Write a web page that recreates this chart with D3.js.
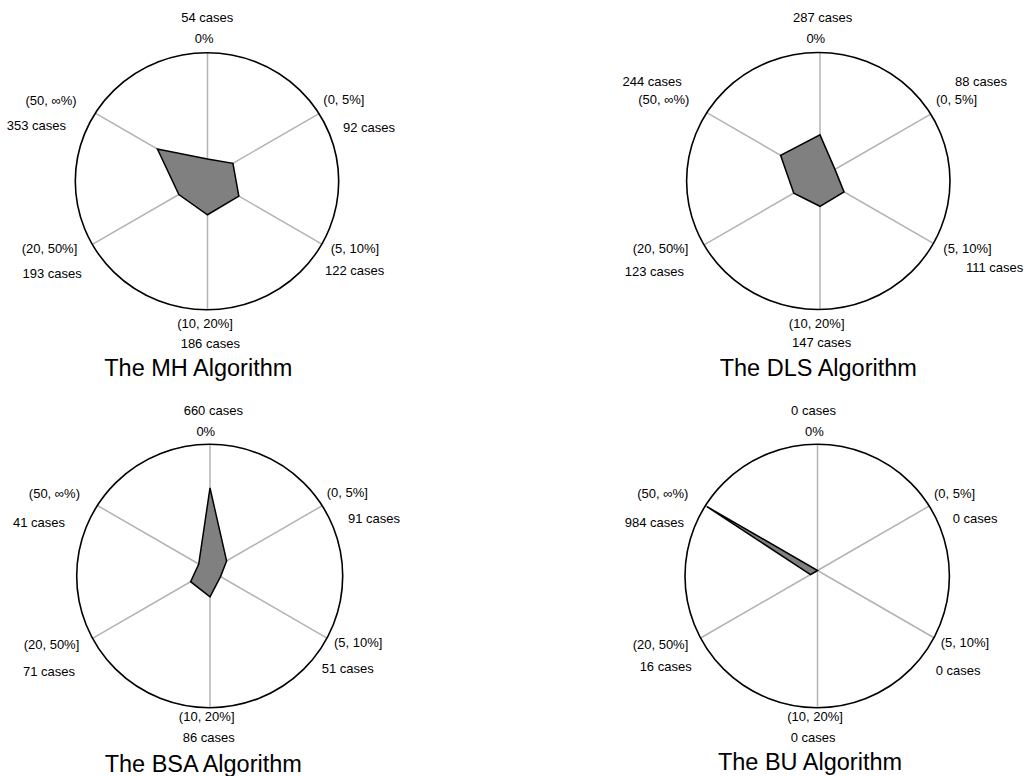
<!DOCTYPE html>
<html><head><meta charset="utf-8">
<script src="https://cdn.jsdelivr.net/npm/d3@7"></script>
<style>
body{margin:0;background:#fff}
svg{display:block}
text{font-family:"Liberation Sans",Arial,Helvetica,sans-serif;fill:#000}
</style>
</head><body>
<svg id="chart" width="1029" height="776"></svg>
<script>
// ---- data ----
const categories = ["0%", "(0, 5%]", "(5, 10%]", "(10, 20%]", "(20, 50%]", "(50, \u221E%)"];
const algorithms = ["The MH Algorithm", "The DLS Algorithm", "The BSA Algorithm", "The BU Algorithm"];
const casesMH  = [54, 92, 122, 186, 193, 353];
const casesDLS = [287, 88, 111, 147, 123, 244];
const casesBSA = [660, 91, 51, 86, 71, 41];
const casesBU  = [0, 0, 0, 0, 16, 984];
// radial extent of each polygon vertex (share of the axis length)
const radiusMH  = [0.152, 0.228, 0.274, 0.279, 0.249, 0.446];
const radiusDLS = [0.344, 0.135, 0.212, 0.215, 0.226, 0.348];
const radiusBSA = [0.654, 0.148, 0.090, 0.192, 0.165, 0.100];
const radiusBU  = [0, 0, 0, 0, 0.060, 0.985];

const casesAll = [casesMH, casesDLS, casesBSA, casesBU];
const radiusAll = [radiusMH, radiusDLS, radiusBSA, radiusBU];

// ---- layout (positions only) ----
const layout = [
  { sc:[207.5,178], ec:[207,181.2], rx:131.7, ry:128.5, title:[198.3,375.5],
    lab:[ [[204.2,43.3,"middle"],[207.2,21.7,"middle"]],
          [[323.3,103.5,"start"],[343,131.7,"start"]],
          [[330.7,252.5,"start"],[325,275,"start"]],
          [[205,328,"middle"],[210.3,348,"middle"]],
          [[77.3,252.5,"end"],[81.7,278,"end"]],
          [[76.7,105,"end"],[66,130,"end"]] ] },
  { sc:[820,178], ec:[818.3,181], rx:131.7, ry:128.5, title:[818.3,375.5],
    lab:[ [[815.8,43.3,"middle"],[822.7,21.7,"middle"]],
          [[936,103.5,"start"],[955,86,"start"]],
          [[943.3,253,"start"],[966,271.7,"start"]],
          [[816.7,328,"middle"],[821.7,346.7,"middle"]],
          [[688.3,252.5,"end"],[684,276,"end"]],
          [[689.3,103.5,"end"],[681.7,86,"end"]] ] },
  { sc:[210,570.5], ec:[209.7,576], rx:133, ry:131.7, title:[203.3,771.7],
    lab:[ [[205.8,435.7,"middle"],[213.3,415,"middle"]],
          [[326.7,497.3,"start"],[348,522.7,"start"]],
          [[334,647,"start"],[321.7,672.7,"start"]],
          [[206.7,721,"middle"],[208.8,741.7,"middle"]],
          [[79.3,649,"end"],[75,676,"end"]],
          [[80,498,"end"],[65,526.7,"end"]] ] },
  { sc:[817.5,570.5], ec:[817.2,576], rx:132.2, ry:131.7, title:[810,770],
    lab:[ [[814.5,436,"middle"],[813.5,415,"middle"]],
          [[934,497.5,"start"],[952.7,522.7,"start"]],
          [[940.7,646.5,"start"],[935.7,675,"start"]],
          [[815,721,"middle"],[813.2,741.7,"middle"]],
          [[688.3,649,"end"],[691.7,670.7,"end"]],
          [[688.3,498,"end"],[684,527,"end"]] ] }
];

const svg = d3.select("#chart");
const angle = d3.scaleLinear().domain([0, categories.length]).range([0, 2 * Math.PI]);

// intersection of a ray from the spoke centre with the outline ellipse
function spokeLength(L, theta) {
  const s = Math.sin(theta), c = Math.cos(theta);
  const d = L.ec[1] - L.sc[1], dx0 = L.sc[0] - L.ec[0];
  // point = (dx0 + t s, -d - t c) relative to ellipse centre
  const A = (s * s) / (L.rx * L.rx) + (c * c) / (L.ry * L.ry);
  const B = 2 * dx0 * s / (L.rx * L.rx) + 2 * d * c / (L.ry * L.ry);
  const C = dx0 * dx0 / (L.rx * L.rx) + d * d / (L.ry * L.ry) - 1;
  return (-B + Math.sqrt(B * B - 4 * A * C)) / (2 * A);
}

layout.forEach((L, k) => {
  const g = svg.append("g");
  const axes = categories.map((cat, i) => {
    const th = angle(i);
    const len = spokeLength(L, th);
    const r = d3.scaleLinear().domain([0, 1]).range([0, len]);
    return { th, r };
  });
  const pt = (i, v) => [L.sc[0] + axes[i].r(v) * Math.sin(axes[i].th),
                        L.sc[1] - axes[i].r(v) * Math.cos(axes[i].th)];

  // spokes
  g.selectAll("line.spoke").data(categories).join("line")
    .attr("class", "spoke")
    .attr("x1", L.sc[0]).attr("y1", L.sc[1])
    .attr("x2", (d, i) => pt(i, 1)[0]).attr("y2", (d, i) => pt(i, 1)[1])
    .attr("stroke", "#b3b3b3").attr("stroke-width", 1.5);

  // outline
  g.append("ellipse").attr("cx", L.ec[0]).attr("cy", L.ec[1])
    .attr("rx", L.rx).attr("ry", L.ry)
    .attr("fill", "none").attr("stroke", "#000").attr("stroke-width", 1.6);

  // polygon
  const vals = radiusAll[k];
  g.append("path")
    .attr("d", d3.line().curve(d3.curveLinearClosed)(vals.map((v, i) => pt(i, v))))
    .attr("fill", "#808080").attr("stroke", "#000").attr("stroke-width", 1.5)
    .attr("stroke-linejoin", "miter");

  // labels
  const cases = casesAll[k];
  categories.forEach((cat, i) => {
    const [cl, nl] = L.lab[i];
    g.append("text").attr("x", cl[0]).attr("y", cl[1]).attr("text-anchor", cl[2])
      .attr("font-size", 13).text(cat);
    g.append("text").attr("x", nl[0]).attr("y", nl[1]).attr("text-anchor", nl[2])
      .attr("font-size", 13).text(cases[i] + " cases");
  });

  g.append("text").attr("x", L.title[0]).attr("y", L.title[1]).attr("text-anchor", "middle")
    .attr("font-size", 23.5).text(algorithms[k]);
});
</script>
</body></html>
